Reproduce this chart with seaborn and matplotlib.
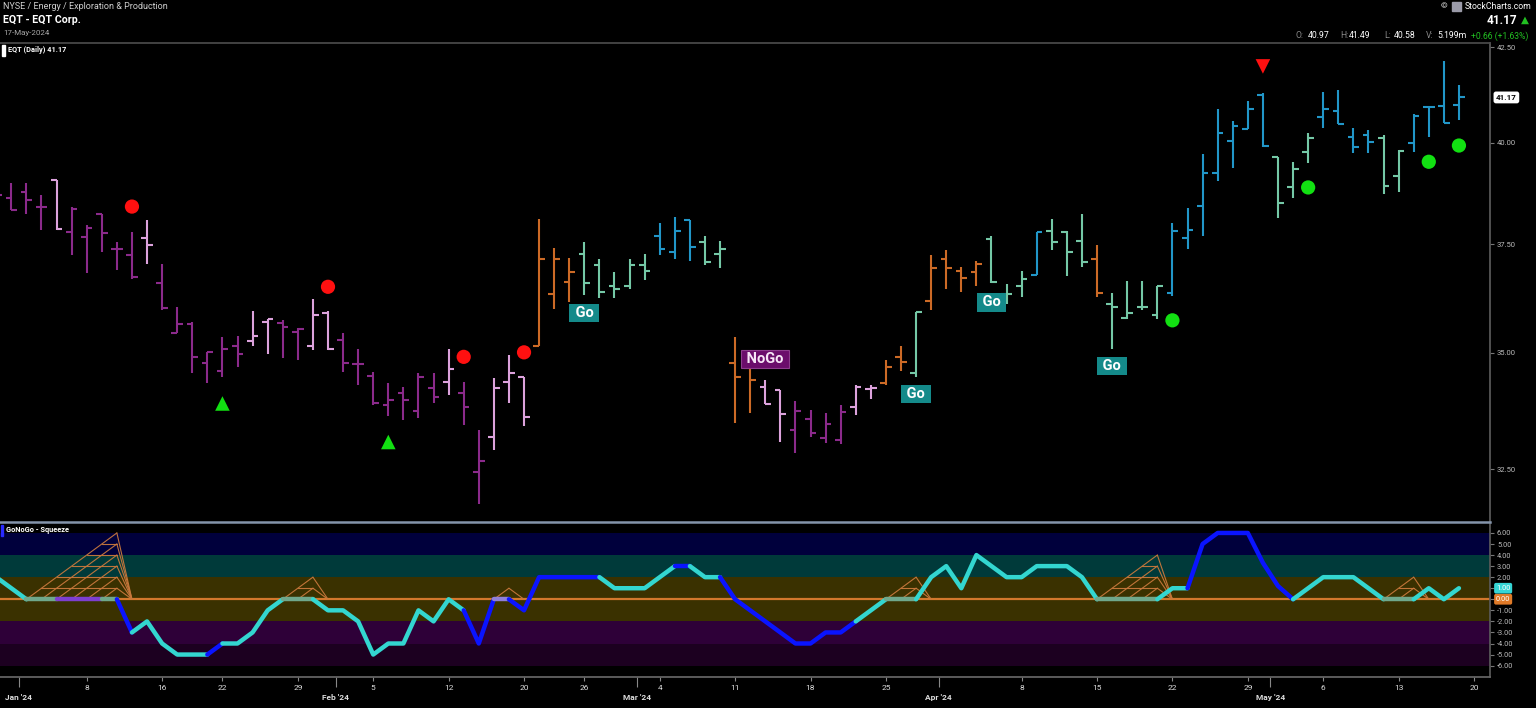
"""EQT daily bars with GoNoGo trend colouring and the GoNoGo squeeze oscillator."""

import matplotlib
matplotlib.use("Agg")
import matplotlib.pyplot as plt
from matplotlib.patches import Rectangle
from matplotlib.ticker import FixedLocator, NullLocator, FuncFormatter
from matplotlib.transforms import blended_transform_factory
import pandas as pd
import seaborn as sns

# ---- data: trading-day index, 0 = 2 Jan 2024 ... 95 = 17 May 2024 ----
bar_idx = list(range(-2, 96))
opens = [38.79, 38.62, 38.77, 38.40, 39.06, 37.80, 37.68, 38.24, 37.38, 37.24,
         37.64, 36.59, 35.44, 35.64, 34.77, 34.60, 35.15, 35.26, 35.69, 35.67,
         35.47, 35.15, 35.90, 35.28, 34.75, 34.49, 33.86, 34.11, 33.73, 34.22,
         34.36, 34.11, 32.45, 33.17, 34.36, 34.47, 35.15, 36.33, 36.61, 37.28,
         37.00, 36.51, 36.51, 37.02, 37.69, 37.32, 38.08, 37.56, 37.26, 34.77,
         34.66, 34.25, 34.18, 33.32, 33.55, 33.16, 33.11, 33.82, 34.20, 34.34,
         34.91, 34.55, 36.17, 37.16, 36.87, 36.85, 37.62, 36.33, 36.51, 36.77,
         37.82, 37.80, 37.58, 37.14, 36.11, 35.79, 36.04, 35.84, 36.35, 37.66,
         38.43, 39.25, 40.05, 40.35, 41.23, 39.64, 38.88, 39.77, 40.67, 40.82,
         40.14, 40.20, 40.11, 39.16, 40.00, 40.91, 40.94, 40.97]
highs = [38.97, 38.98, 38.98, 38.69, 39.06, 38.40, 37.96, 38.24, 37.56, 37.80,
         38.08, 37.04, 36.04, 35.69, 35.02, 35.36, 35.38, 35.94, 35.75, 35.73,
         35.55, 36.21, 35.94, 35.45, 35.08, 34.58, 34.33, 34.25, 34.55, 34.55,
         35.08, 34.36, 33.32, 34.45, 34.95, 34.47, 38.10, 37.42, 37.18, 37.56,
         37.14, 36.85, 37.16, 37.26, 38.01, 38.16, 38.08, 37.70, 37.58, 35.36,
         34.73, 34.40, 34.18, 33.94, 33.75, 33.68, 33.86, 34.28, 34.29, 34.84,
         35.15, 35.92, 37.24, 37.36, 36.97, 37.10, 37.70, 36.57, 36.87, 37.80,
         38.10, 37.82, 38.24, 37.48, 36.36, 36.63, 36.63, 36.53, 38.00, 38.38,
         39.71, 40.87, 40.56, 41.08, 41.29, 39.64, 39.52, 40.26, 41.32, 41.36,
         40.39, 40.32, 40.20, 39.81, 40.74, 40.92, 42.13, 41.49]
lows = [38.44, 38.32, 38.24, 37.84, 37.84, 37.24, 36.81, 37.32, 36.89, 36.69,
        37.04, 35.96, 35.44, 34.55, 34.33, 34.47, 34.69, 35.15, 34.97, 34.88,
        34.84, 35.06, 35.06, 34.58, 34.29, 33.86, 33.62, 33.53, 33.57, 33.89,
        34.07, 33.43, 31.80, 32.90, 33.89, 33.40, 35.15, 35.98, 36.15, 36.31,
        36.23, 36.23, 36.44, 36.65, 37.24, 37.16, 37.10, 37.00, 36.93, 33.47,
        33.68, 33.87, 33.06, 32.85, 33.18, 33.05, 33.03, 33.64, 33.98, 34.29,
        34.60, 34.47, 35.96, 36.44, 36.38, 36.51, 36.59, 36.10, 36.27, 36.77,
        37.36, 36.75, 36.97, 36.27, 35.08, 35.77, 35.96, 35.75, 36.29, 37.38,
        37.70, 39.04, 39.37, 40.34, 39.90, 38.12, 38.62, 39.48, 40.39, 40.48,
        39.74, 39.73, 38.71, 38.76, 39.77, 40.14, 40.50, 40.58]
closes = [38.69, 38.32, 38.57, 38.40, 37.86, 38.36, 37.90, 37.76, 37.38, 36.73,
          37.48, 36.00, 35.64, 34.91, 35.02, 35.08, 34.97, 35.37, 35.75, 35.58,
          35.53, 35.84, 35.08, 34.78, 34.75, 33.90, 33.96, 33.96, 34.47, 34.03,
          34.64, 33.82, 32.68, 34.22, 34.56, 33.59, 37.16, 37.16, 36.85, 36.59,
          36.38, 36.44, 37.02, 36.87, 37.38, 37.82, 37.44, 37.08, 37.38, 34.47,
          34.40, 33.87, 33.66, 33.73, 33.26, 33.45, 33.71, 34.24, 34.22, 34.69,
          34.80, 35.92, 36.93, 36.93, 36.71, 37.03, 36.61, 36.34, 36.69, 37.80,
          37.56, 37.32, 37.08, 36.36, 36.04, 35.90, 36.04, 36.51, 37.82, 37.84,
          39.25, 40.24, 40.43, 40.88, 39.92, 38.50, 39.33, 40.11, 40.88, 40.48,
          39.90, 40.03, 38.92, 39.80, 40.69, 40.91, 40.51, 41.17]
volume_text = "5.199m"

# GoNoGo trend state per bar: P NoGo, L weak NoGo, O neutral, A weak Go, B Go
bar_states = ("PPPP L PPPPP L PPPPPP LL PP LL PPPPPPP L PP LLL OOO AAAAA BBB AA OO LL "
              "PPPP LL OO A OOOO AAA B AAA O AAAA BBBBBBB AAA BBBB AA BBBB").replace(" ", "")

# oscillator value per bar and colour state of the segment leaving each bar
osc_values = [2, 1, 0, 0, 0, 0, 0, 0, 0, -3,
              -2, -4, -5, -5, -5, -4, -4, -3, -1, 0,
              0, 0, -1, -1, -2, -5, -4, -4, -1, -2,
              0, -1, -4, 0, 0, -1, 2, 2, 2, 2,
              2, 1, 1, 1, 2, 3, 3, 2, 2, 0,
              -1, -2, -3, -4, -4, -3, -3, -2, -1, 0,
              0, 0, 2, 3, 1, 4, 3, 2, 2, 3,
              3, 3, 2, 0, 0, 0, 0, 0, 1, 1,
              5, 6, 6, 6, 3.3, 1.2, 0, 1, 2, 2,
              2, 1, 0, 0, 0, 1, 0, 1]
osc_states = ("cc gg ppp g b ccccc b cccc gg c ccccccccc bb v b bbbbb ccccc b cc "
              "bbbbbbbbb cc gg cccccccccccc gggg cc bbbbbbb cccccc gg ccc").replace(" ", "")

squeeze_start = [0, 17, 31, 57, 71, 90]
squeeze_peak = [6, 19, 32, 59, 75, 92]
squeeze_end = [7, 20, 33, 60, 76, 93]

# signal markers (bar index, price)
red_dot_idx = [7, 20, 29, 33]
red_dot_px = [38.41, 36.50, 34.91, 35.01]
green_dot_idx = [76, 85, 93, 95]
green_dot_px = [35.73, 38.88, 39.52, 39.93]
green_up_idx = [13, 24]
green_up_px = [33.89, 33.07]
red_down_idx = [82]
red_down_px = [41.99]
go_idx = [37, 59, 64, 72]
go_px = [35.90, 34.09, 36.14, 34.71]
nogo_idx = [49]
nogo_px = [34.86]

day_tick_idx = [4, 9, 13, 18, 23, 28, 33, 37, 42, 47, 52, 57, 66, 71, 76, 81, 86, 91, 96]
day_tick_labels = ["8", "16", "22", "29", "5", "12", "20", "26", "4", "11", "18", "25",
                   "8", "15", "22", "29", "6", "13", "20"]
month_idx = [-0.5, 20.5, 40.5, 60.5, 82.5]
month_labels = ["Jan '24", "Feb '24", "Mar '24", "Apr '24", "May '24"]
price_ticks = [32.5, 35.0, 37.5, 40.0, 42.5]
osc_ticks = list(range(-6, 7))

for seq in (opens, highs, lows, closes, osc_values, bar_states):
    assert len(seq) == len(bar_idx)
assert len(osc_states) == len(bar_idx) - 1

BAR_COLORS = {"P": "#8b2a8b", "L": "#dca2dc", "O": "#cc6a26", "A": "#74c8a6", "B": "#2196c8"}
OSC_COLORS = {"c": "#33d6d0", "b": "#0a14ff", "g": "#6fa88c", "p": "#7d3fd0", "v": "#8f7fd8"}
BANDS = [(4, 6, "#00003c"), (2, 4, "#003a3a"), (-2, 2, "#3a3100"),
         (-4, -2, "#2e0038"), (-6, -4, "#1c0020")]

sns.set_theme(style="dark")
plt.rcParams["font.family"] = ["Roboto", "DejaVu Sans"]
plt.rcParams["axes.unicode_minus"] = False

W, H = 1536, 708
fig = plt.figure(figsize=(W / 100, H / 100), dpi=100, facecolor="black")


def fig_xy(x, y):
    return x / W, 1 - y / H


ax = fig.add_axes([0, 1 - 521 / H, 1490 / W, (521 - 43) / H])
ax2 = fig.add_axes([0, 1 - 677 / H, 1490 / W, (677 - 522) / H])
XLIM = (-1.751, 97.06)

# ---------------- price panel ----------------
ax.set_facecolor("black")
df = pd.DataFrame({"idx": bar_idx, "open": opens, "high": highs, "low": lows,
                   "close": closes, "state": list(bar_states)})
df["color"] = df["state"].map(BAR_COLORS)
ax.vlines(df["idx"], df["low"], df["high"], colors=df["color"], lw=1.5, zorder=3)
ax.hlines(df["open"], df["idx"] - 0.38, df["idx"], colors=df["color"], lw=1.5, zorder=3)
ax.hlines(df["close"], df["idx"], df["idx"] + 0.38, colors=df["color"], lw=1.5, zorder=3)

sns.scatterplot(x=red_dot_idx, y=red_dot_px, color="#ff1010", marker="o", s=105,
                edgecolor="none", ax=ax, zorder=5)
sns.scatterplot(x=green_dot_idx, y=green_dot_px, color="#12e012", marker="o", s=105,
                edgecolor="none", ax=ax, zorder=5)
sns.scatterplot(x=green_up_idx, y=green_up_px, color="#12e012", marker="^", s=110,
                edgecolor="none", ax=ax, zorder=5)
sns.scatterplot(x=red_down_idx, y=red_down_px, color="#ff1010", marker="v", s=110,
                edgecolor="none", ax=ax, zorder=5)

for i, p in zip(go_idx, go_px):
    ax.text(i, p, " Go ", ha="center", va="center", color="white", fontsize=10.5,
            fontweight="bold", zorder=6,
            bbox=dict(boxstyle="square,pad=0.15", fc="#148a8a", ec="none"))
for i, p in zip(nogo_idx, nogo_px):
    ax.text(i, p, " NoGo ", ha="center", va="center", color="#f6e6f6", fontsize=10.5,
            fontweight="bold", zorder=6,
            bbox=dict(boxstyle="square,pad=0.15", fc="#6b0d6b", ec="#8c3c8c", lw=0.8))

ax.set_yscale("log")
ax.set_ylim(31.45, 42.62)
ax.set_xlim(*XLIM)
ax.yaxis.set_major_locator(FixedLocator(price_ticks))
ax.yaxis.set_minor_locator(NullLocator())
ax.yaxis.set_major_formatter(FuncFormatter(lambda v, _: f"{v:.2f}"))
ax.yaxis.tick_right()
ax.tick_params(axis="y", right=True, left=False, length=3, width=0.8, color="#777777",
               labelcolor="#bbbbbb", labelsize=5.5, pad=2)
ax.tick_params(axis="x", bottom=False, labelbottom=False)
ax.set_xlabel("")
ax.set_ylabel("")
ax.grid(False)
ax.spines["left"].set_visible(False)
ax.spines["bottom"].set_visible(False)
ax.spines["top"].set_color("#4a4a4a")
ax.spines["right"].set_color("#5a5a5a")

blend = blended_transform_factory(ax.transAxes, ax.transData)
ax.text(1.004, closes[-1], f"{closes[-1]:.2f}", transform=blend, ha="left", va="center",
        fontsize=5.8, fontweight="bold", color="black", clip_on=False,
        bbox=dict(boxstyle="round,pad=0.3", fc="white", ec="none"))

# ---------------- oscillator panel ----------------
ax2.set_facecolor("black")
for lo, hi, col in BANDS:
    ax2.axhspan(lo, hi, color=col, lw=0, zorder=0)
ax2.axhline(0, color="#d2782d", lw=1.6, zorder=2)

for s, e, f in zip(squeeze_start, squeeze_peak, squeeze_end):
    n = e - s
    kw = dict(color="#c8783c", lw=0.8, alpha=0.95, zorder=3)
    for i in range(n):
        ax2.plot([s + i, e], [0, n - i], **kw)
    for j in range(1, n + 1):
        ax2.plot([s + j, e], [j, j], **kw)
        ax2.plot([e, f], [j, 0], **kw)

osc = pd.DataFrame({"idx": bar_idx, "value": osc_values})
start = 0
for k in range(1, len(osc_states) + 1):
    if k == len(osc_states) or osc_states[k] != osc_states[start]:
        seg = osc.iloc[start:k + 1]
        sns.lineplot(data=seg, x="idx", y="value", color=OSC_COLORS[osc_states[start]],
                     lw=3.2, ax=ax2, sort=False, estimator=None,
                     solid_capstyle="round", zorder=4)
        start = k

ax2.set_xlim(*XLIM)
ax2.set_ylim(-7.03, 6.99)
ax2.set_xlabel("")
ax2.set_ylabel("")
ax2.grid(False)
ax2.yaxis.set_major_locator(FixedLocator(osc_ticks))
ax2.yaxis.set_major_formatter(FuncFormatter(lambda v, _: f"{v:.2f}"))
ax2.yaxis.tick_right()
ax2.tick_params(axis="y", right=True, left=False, length=3, width=0.8, color="#777777",
                labelcolor="#bbbbbb", labelsize=5.3, pad=2)
ax2.set_xticks(day_tick_idx, day_tick_labels)
ax2.set_xticks(month_idx, minor=True)
ax2.tick_params(axis="x", which="major", bottom=True, length=3, width=0.8, color="#888888",
                labelcolor="#dddddd", labelsize=6, pad=3)
ax2.tick_params(axis="x", which="minor", bottom=True, length=7, width=0.8, color="#888888")
mblend = blended_transform_factory(ax2.transData, ax2.transAxes)
for mi, lab in zip(month_idx, month_labels):
    ax2.text(mi, -0.135, lab, transform=mblend, ha="center", va="center", fontsize=6,
             fontweight="bold", color="#dddddd", clip_on=False)
ax2.spines["left"].set_visible(False)
ax2.spines["top"].set_color("#8494ab")
ax2.spines["top"].set_linewidth(1.8)
ax2.spines["right"].set_color("#5a5a5a")
ax2.spines["bottom"].set_color("#666666")

oblend = blended_transform_factory(ax2.transAxes, ax2.transData)
ax2.text(1.004, 0, "0.00", transform=oblend, ha="left", va="center", fontsize=5.3,
         color="white", clip_on=False, zorder=7,
         bbox=dict(boxstyle="round,pad=0.25", fc="#e07a28", ec="none"))
ax2.text(1.004, osc_values[-1], f"{osc_values[-1]:.2f}", transform=oblend, ha="left",
         va="center", fontsize=5.3, color="white", clip_on=False, zorder=8,
         bbox=dict(boxstyle="round,pad=0.25", fc="#35d5d5", ec="none"))

# ---------------- header and panel titles ----------------
fig.text(*fig_xy(3, 6.5), "NYSE / Energy / Exploration & Production", fontsize=6.5,
         color="#cfcfcf", va="center")
fig.text(*fig_xy(3, 20), "EQT - EQT Corp.", fontsize=7.7, fontweight="bold",
         color="white", va="center")
fig.text(*fig_xy(3, 33.5), "17-May-2024", fontsize=5.8, color="#a8a8a8", va="center")

fig.text(*fig_xy(1531, 6.5), "StockCharts.com", fontsize=6.3, color="white",
         ha="right", va="center")
fig.add_artist(Rectangle(fig_xy(1452, 11), 9 / W, 9 / H, transform=fig.transFigure,
                         color="#9a9aa8"))
fig.text(*fig_xy(1441, 6.5), "©", fontsize=6, color="white", va="center")
fig.text(*fig_xy(1517, 20.5), f"{closes[-1]:.2f}", fontsize=8.5, fontweight="bold",
         color="white", ha="right", va="center")
fig.text(*fig_xy(1521, 20), "▲", fontsize=7.5, color="#22c022", va="center",
         family=["DejaVu Sans"])

change = closes[-1] - closes[-2]
pct = change / closes[-2] * 100
row = [("O:", 1296, "#8a8a8a"), (f"{opens[-1]:.2f}", 1308, "white"),
       ("H:", 1340, "#8a8a8a"), (f"{highs[-1]:.2f}", 1349, "white"),
       ("L:", 1384, "#8a8a8a"), (f"{lows[-1]:.2f}", 1394, "white"),
       ("V:", 1426, "#8a8a8a"), (volume_text, 1437, "white"),
       (f"{change:+.2f} ({pct:+.2f}%)", 1471, "#22c022")]
for txt, x, col in row:
    fig.text(*fig_xy(x, 36), txt, fontsize=6.2, color=col, va="center")

fig.add_artist(Rectangle(fig_xy(2, 56), 3 / W, 11 / H, transform=fig.transFigure,
                         color="white"))
fig.text(*fig_xy(8, 50.5), f"EQT (Daily) {closes[-1]:.2f}", fontsize=5.3,
         fontweight="bold", color="white", va="center")
fig.add_artist(Rectangle(fig_xy(1, 536), 2 / W, 11 / H, transform=fig.transFigure,
                         color="#2a2aff"))
fig.text(*fig_xy(6, 530.5), "GoNoGo - Squeeze", fontsize=5.3, fontweight="bold",
         color="white", va="center")

fig.savefig("out.png", dpi=100, facecolor="black")
